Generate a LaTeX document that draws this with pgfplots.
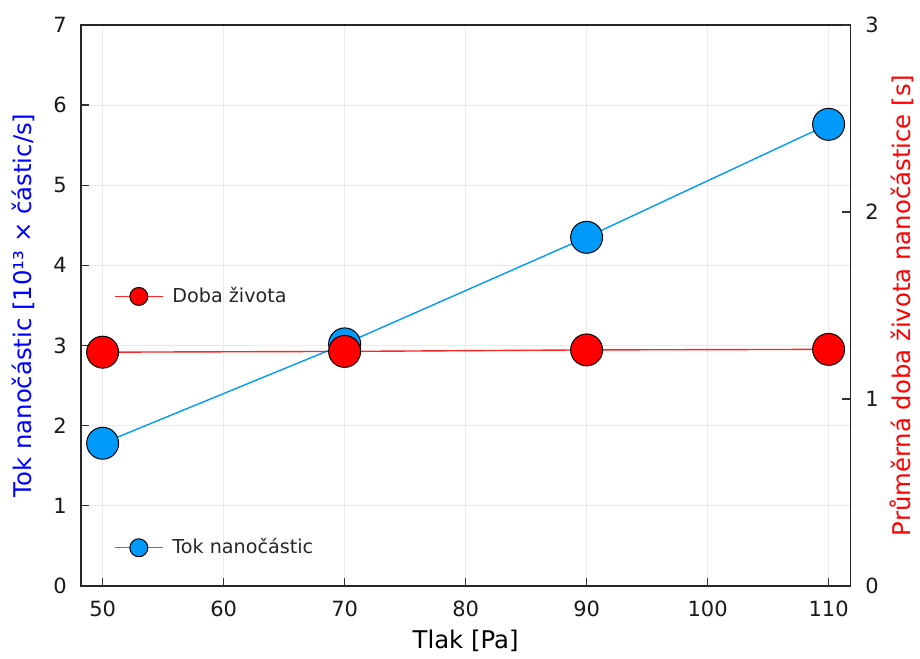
\documentclass[border=0pt]{standalone}
\usepackage{fontspec}
\setmainfont{DejaVu Sans}
\usepackage{pgfplots}
\pgfplotsset{compat=1.18}
\definecolor{jblue}{RGB}{0,154,250}
\definecolor{jred}{RGB}{255,0,0}
\definecolor{gridc}{RGB}{234,234,234}
\begin{document}
\begin{tikzpicture}
\pgfplotsset{
 common/.style={scale only axis, width=385.5pt, height=281pt, xmin=48.2, xmax=111.8,
   tick align=inside, major tick length=4pt, tick style={line width=0.6pt, black!80},
   /pgf/number format/assume math mode=true,
   tick label style={font=\fontsize{10.5}{12}\selectfont, black!90},
   xticklabel style={yshift=-4pt},
   label style={font=\fontsize{12.2}{14}\selectfont},
   legend style={draw=none, fill=none, font=\fontsize{9.6}{11}\selectfont, text=black!85},
   legend cell align=left,
   legend image code/.code={\draw[mark repeat=2, mark phase=2, ##1, mark size=4.5pt] plot coordinates {(0pt,0pt) (12pt,0pt) (24pt,0pt)};}
 }
}
\begin{axis}[common, name=ax, axis line style={line width=0.7pt, black!85},
  ymin=0, ymax=7, ytick={0,...,7}, xtick={50,60,...,110},
  xtick pos=bottom, ytick pos=left, grid=major, grid style={gridc, line width=0.5pt},
  yticklabel style={xshift=-3.5pt},
  xlabel={Tlak [Pa]}, ylabel={Tok nanočástic [10¹³ × částic/s]},
  ylabel style={blue}, ylabel shift=2.5pt,
  legend style={at={(0.035,0.068)}, anchor=west}]
\addplot[jblue, line width=0.7pt, mark=*, mark size=8pt, mark options={fill=jblue, draw=black, line width=0.5pt}]
  coordinates {(50,1.78) (70,3.02) (90,4.35) (110,5.76)};
\addlegendentry{\hspace{2.5pt}Tok nanočástic}
\end{axis}
\begin{axis}[common, axis x line=none, axis y line*=right,
  axis line style={line width=0.7pt, black!85},
  ymin=0, ymax=3, ytick={0,1,2,3},
  yticklabel style={xshift=4pt},
  ylabel={Průměrná doba života nanočástice [s]},
  ylabel style={red}, ylabel shift=-1.5pt,
  legend style={at={(0.035,0.516)}, anchor=west}]
\addplot[red, opacity=0.85, line width=0.7pt, mark=*, mark size=8pt, mark options={fill=jred, draw=black, line width=0.5pt, opacity=1}]
  coordinates {(50,1.250) (70,1.254) (90,1.262) (110,1.265)};
\addlegendentry{\hspace{2.5pt}Doba života}
\end{axis}
\path[use as bounding box] ([xshift=-40.5pt,yshift=-35pt]ax.south west) rectangle ([xshift=34pt,yshift=12.5pt]ax.north east);
\end{tikzpicture}
\end{document}
